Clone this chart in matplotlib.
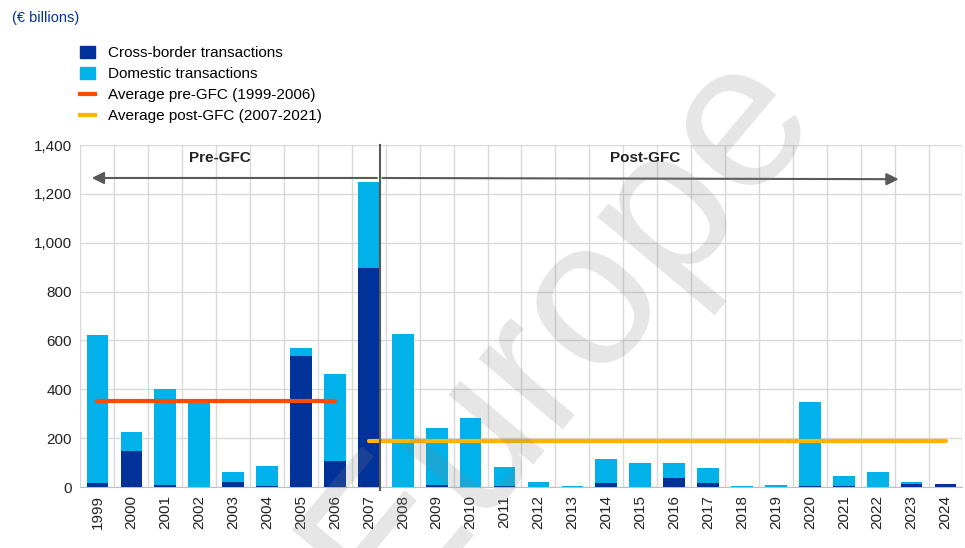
import numpy as np
import matplotlib
matplotlib.use('Agg')
import matplotlib.pyplot as plt
from matplotlib.patches import Patch
from matplotlib.lines import Line2D

plt.rcParams['font.family'] = ['Liberation Sans', 'DejaVu Sans']

years = [str(y) for y in range(1999, 2025)]
# total = cross-border + domestic (€ billions)
cross_border = [15, 148, 8, 0, 20, 5, 535, 105, 897, 0, 10, 0, 5, 0, 0, 15, 0, 36, 15, 0, 0, 5, 5, 0, 14, 14]
total = [622, 225, 402, 348, 62, 88, 567, 462, 1250, 628, 241, 282, 83, 20, 4, 114, 98, 98, 78, 4, 10, 346, 46, 62, 19, 14]
domestic = [t - c for t, c in zip(total, cross_border)]
avg_pre = 352
avg_post = 190

dark_blue = '#003299'
light_blue = '#00B1EA'
orange = '#FF4B00'
yellow = '#FFB400'

fig = plt.figure(figsize=(9.65, 5.48), dpi=100)
ax = fig.add_axes([0.0834, 0.1113, 0.914, 0.6241])

x = np.arange(len(years))
w = 0.64
ax.bar(x, cross_border, width=w, color=dark_blue, zorder=3)
ax.bar(x, domestic, width=w, bottom=cross_border, color=light_blue, zorder=3)

# averages, centre of first bar to centre of last bar
ax.plot([0, 7], [avg_pre, avg_pre], color=orange, lw=3, solid_capstyle='round', zorder=4)
ax.plot([8, 25], [avg_post, avg_post], color=yellow, lw=3, solid_capstyle='round', zorder=4)

# pre / post GFC separator and arrows
sep = 8 + w / 2
ax.plot([sep, sep], [-12, 1400], color='#595959', lw=1.5, zorder=5, clip_on=False)
ax.annotate('', xy=(-0.25, 1265), xytext=(sep, 1265),
            arrowprops=dict(arrowstyle='-|>', color='#595959', lw=1.5, mutation_scale=18), zorder=5)
ax.annotate('', xy=(23.7, 1260), xytext=(sep, 1265),
            arrowprops=dict(arrowstyle='-|>', color='#595959', lw=1.5, mutation_scale=18), zorder=5)
ax.text(3.6, 1345, 'Pre-GFC', ha='center', va='center', fontsize=11, fontweight='bold', color='#222222')
ax.text(16.15, 1345, 'Post-GFC', ha='center', va='center', fontsize=11, fontweight='bold', color='#222222')

ax.set_xlim(-0.5, len(years) - 0.5)
ax.set_ylim(0, 1400)
ax.set_yticks(range(0, 1401, 200))
ax.set_yticklabels([f'{v:,}' for v in range(0, 1401, 200)], fontsize=11, color='#222222')
ax.set_xticks(x)
ax.set_xticklabels(years, rotation=90, fontsize=11, color='#222222')
ax.tick_params(length=0, pad=6)

ax.set_xticks(np.arange(-0.5, len(years)), minor=True)
ax.tick_params(which='minor', length=0)
ax.grid(True, which='minor', axis='x', color='#d9d9d9', lw=1, zorder=0)
ax.grid(True, which='major', axis='y', color='#d9d9d9', lw=1, zorder=0)
for s in ['top', 'right', 'left']:
    ax.spines[s].set_visible(False)
ax.spines['bottom'].set_color('#bfbfbf')

fig.text(0.012, 0.967, '(€ billions)', fontsize=10.5, color='#003299', ha='left', va='center')

handles = [Patch(color=dark_blue), Patch(color=light_blue),
           Line2D([], [], color=orange, lw=3), Line2D([], [], color=yellow, lw=3)]
labels = ['Cross-border transactions', 'Domestic transactions',
          'Average pre-GFC (1999-2006)', 'Average post-GFC (2007-2021)']
fig.legend(handles, labels, loc='upper left', bbox_to_anchor=(0.083, 0.916), frameon=False,
           fontsize=11, handlelength=1.0, handleheight=0.8, handletextpad=0.85,
           labelspacing=0.45, borderpad=0, borderaxespad=0)

# watermark
fig.text(0.58, 0.40, 'Europe', fontsize=150, rotation=50, color='#808080', alpha=0.2,
         ha='center', va='center', zorder=10)

fig.savefig('out.png', dpi=100)
